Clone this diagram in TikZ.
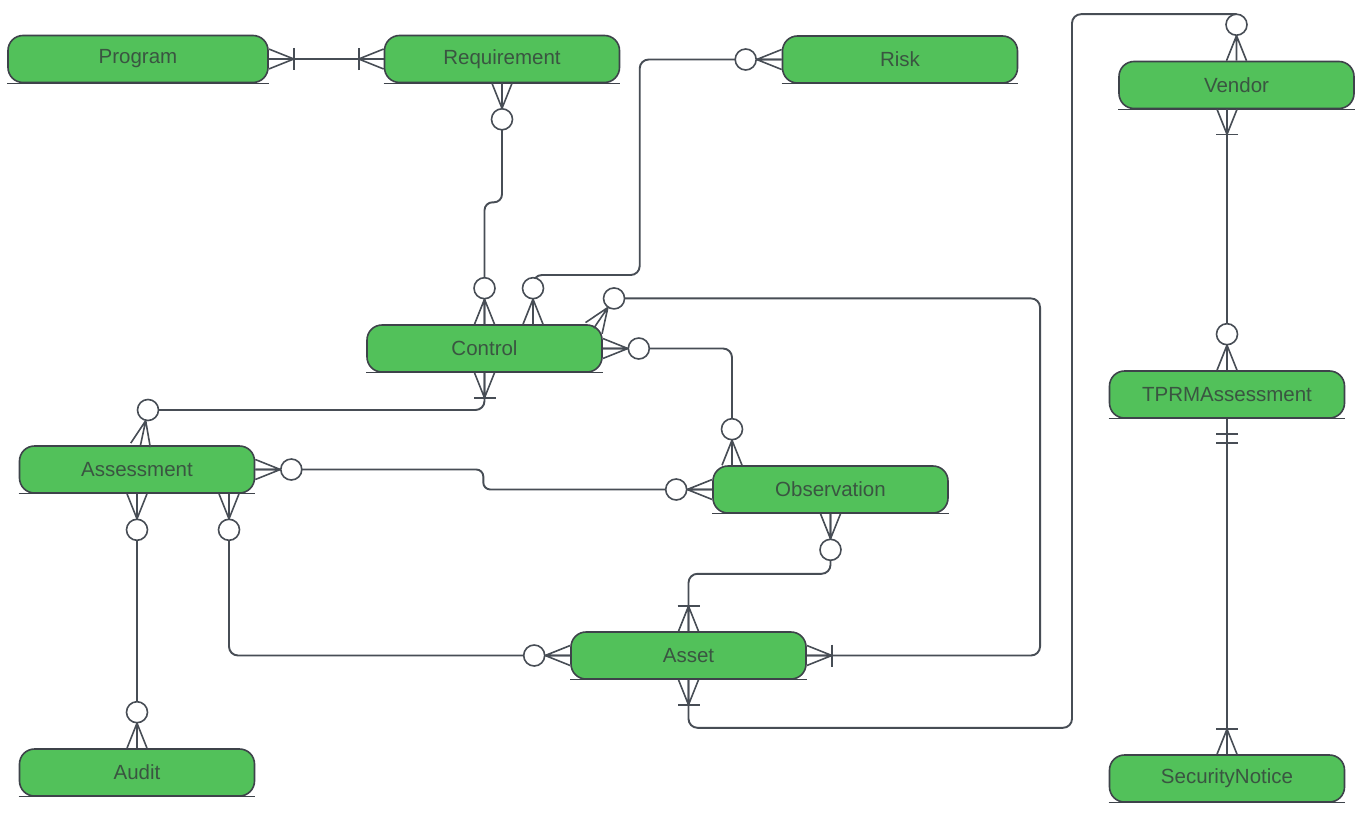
\documentclass[tikz,border=0pt]{standalone}
\usepackage{fontspec}
\setmainfont{Liberation Sans}
\usetikzlibrary{calc}
\pgfdeclarelayer{background}
\pgfsetlayers{background,main}
\definecolor{boxgreen}{HTML}{52C15A}
\definecolor{linec}{HTML}{474D55}
\definecolor{edgec}{HTML}{3E434A}
\definecolor{textc}{HTML}{3A5541}
\tikzset{
  entity/.style={draw=edgec, fill=boxgreen, line width=1.6pt, rounded corners=15pt,
    minimum width=235pt, minimum height=47pt, inner sep=0pt, text=textc,
    font=\fontsize{20.5}{24}\selectfont},
  conn/.style={draw=linec, line width=1.9pt, rounded corners=9pt},
  foot/.style={draw=linec, line width=1.6pt},
}
\newcommand\crowft[2]{\draw[foot] ($(#1)+(#2:25pt)$) -- (#1) ($(#1)+(#2:25pt)$) -- ($(#1)+(#2+90:10pt)$) ($(#1)+(#2:25pt)$) -- ($(#1)+(#2-90:10pt)$);}
\newcommand\zmany[2]{\crowft{#1}{#2}\draw[foot,fill=white] ($(#1)+(#2:36pt)$) circle (10.5pt);}
\newcommand\omany[2]{\crowft{#1}{#2}\draw[foot] ($(#1)+(#2:25pt)+(#2+90:11pt)$) -- ($(#1)+(#2:25pt)+(#2-90:11pt)$);}
\newcommand\oone[2]{\draw[foot] ($(#1)+(#2:15pt)+(#2+90:11pt)$) -- ($(#1)+(#2:15pt)+(#2-90:11pt)$); \draw[foot] ($(#1)+(#2:24pt)+(#2+90:11pt)$) -- ($(#1)+(#2:24pt)+(#2-90:11pt)$);}
\begin{document}
\begin{tikzpicture}[x=1pt,y=-1pt]
\useasboundingbox[fill=white] (0,0) rectangle (1364,816);
% entities
\node[entity, minimum width=260pt] (prog) at (138,59) {Program};
\node[entity] (req) at (502,59) {Requirement};
\node[entity] (risk) at (900,59.5) {Risk};
\node[entity] (vendor) at (1236.5,85) {Vendor};
\node[entity] (ctrl) at (484.5,348.5) {Control};
\node[entity] (tprm) at (1227,394.5) {TPRMAssessment};
\node[entity] (assess) at (137,469.5) {Assessment};
\node[entity] (obs) at (830.5,489.5) {Observation};
\node[entity] (asset) at (688.5,655.5) {Asset};
\node[entity] (audit) at (137,772.5) {Audit};
\node[entity] (sec) at (1227,778.5) {SecurityNotice};
\begin{pgfonlayer}{background}
\foreach \n in {prog,req,risk,vendor,ctrl,tprm,assess,obs,asset,audit,sec}{
  \fill[boxgreen] (\n.west) rectangle (\n.south east);}
\end{pgfonlayer}
\foreach \n in {prog,req,risk,vendor,ctrl,tprm,assess,obs,asset,audit,sec}{
  \draw[edgec, line width=1.3pt] (\n.south west) -- (\n.south east);}
% end points
\coordinate (pR) at (prog.east);
\coordinate (rL) at (req.west);
\coordinate (rB) at (req.south);
\coordinate (cT1) at (ctrl.north);
\coordinate (kL) at (risk.west);
\coordinate (cT2) at ($(ctrl.north)+(48.5,0)$);
\coordinate (cTR) at ($(ctrl.north east)+(-9,4)$);
\coordinate (cR) at (ctrl.east);
\coordinate (oT) at ($(obs.north)+(-98.5,0)$);
\coordinate (cB) at (ctrl.south);
\coordinate (aT) at ($(assess.north)+(3.5,0)$);
\coordinate (aR) at (assess.east);
\coordinate (oL) at (obs.west);
\coordinate (aB1) at (assess.south);
\coordinate (dT) at (audit.north);
\coordinate (aB2) at ($(assess.south)+(92,0)$);
\coordinate (sL) at (asset.west);
\coordinate (oB) at (obs.south);
\coordinate (sT) at (asset.north);
\coordinate (sR) at (asset.east);
\coordinate (sB) at (asset.south);
\coordinate (vT) at (vendor.north);
\coordinate (vB) at ($(vendor.south)+(-9.5,0)$);
\coordinate (tT) at (tprm.north);
\coordinate (tB) at (tprm.south);
\coordinate (nT) at (sec.north);
% connectors
\draw[conn] (pR) -- (rL);
\draw[conn, rounded corners=8pt] (rB) -- ($(rB)+(0,119)$) -| (cT1);
\draw[conn] (kL) -- ++(-142,0) -- ++(0,215.5) -| (cT2);
\draw[conn] ($(cTR)+(55.8:36pt)$) -- ++(426,0) |- (sR);
\draw[conn] (cR) -| (oT);
\draw[conn] (cB) |- ($(aT)+(78:36pt)$);
\draw[conn, rounded corners=7pt] (aR) -- ++(228,0) |- (oL);
\draw[conn] (aB1) -- (dT);
\draw[conn] (aB2) |- (sL);
\draw[conn] (oB) -- ++(0,60) -| (sT);
\draw[conn] (sB) -- ++(0,48) -| ($(vT)+(-164.5,-46.5)$) -- ($(vT)+(0,-46.5)$);
\draw[conn] (vB) -- (tT);
\draw[conn] (tB) -- (nT);
% cardinality marks
\omany{pR}{0} \omany{rL}{180}
\zmany{rB}{-90} \zmany{cT1}{90}
\zmany{kL}{180} \zmany{cT2}{90}
\zmany{cTR}{55.8} \omany{sR}{0}
\zmany{cR}{0} \zmany{oT}{90}
\omany{cB}{-90} \zmany{aT}{78}
\zmany{aR}{0} \zmany{oL}{180}
\zmany{aB1}{-90} \zmany{dT}{90}
\zmany{aB2}{-90} \zmany{sL}{180}
\zmany{oB}{-90} \omany{sT}{90}
\omany{sB}{-90} \zmany{vT}{90}
\omany{vB}{-90} \zmany{tT}{90}
\oone{tB}{-90} \omany{nT}{90}
\end{tikzpicture}
\end{document}
